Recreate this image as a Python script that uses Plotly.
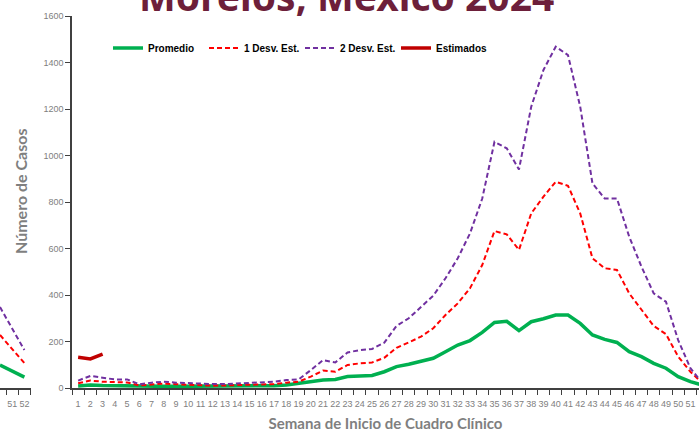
import plotly.graph_objects as go

weeks = list(range(1, 53))

promedio = [9, 13, 11, 10, 10, 6, 7, 7, 7, 7, 7, 7, 7, 8, 8, 9, 10,
            13, 20, 27, 34, 37, 49, 52, 54, 70, 92, 102, 116, 128, 156, 185,
            204, 239, 282, 287, 247, 285, 298, 314, 314, 278, 228, 209, 196,
            156, 135, 106, 85, 49, 27, 12]
desv1 = [20, 32, 27, 24, 24, 11, 16, 19, 16, 13, 13, 10, 11, 13, 16, 16, 17,
         23, 27, 49, 75, 70, 99, 106, 110, 130, 173, 196, 221, 257, 314, 364,
         429, 529, 675, 661, 594, 751, 823, 887, 870, 751, 558, 515, 508,
         407, 335, 267, 232, 135, 70, 20]
desv2 = [32, 52, 44, 37, 37, 16, 23, 27, 23, 20, 20, 17, 17, 20, 23, 24, 27,
         34, 37, 77, 120, 110, 153, 163, 168, 195, 267, 300, 350, 397, 472, 558,
         665, 815, 1059, 1031, 940, 1210, 1368, 1468, 1432, 1210, 880, 815, 815,
         651, 522, 407, 371, 206, 85, 20]
est_weeks = [1, 2, 3]
estimados = [132, 125, 146]

prev_weeks = [50, 51, 52]
prev_promedio = [99, 75, 47]
prev_desv1 = [228, 165, 107]
prev_desv2 = [348, 258, 163]

title_text = "Morelos, México 2024"
x_title = "Semana de Inicio de Cuadro Clínico"
y_title = "Número de Casos"

GREEN = "#00b050"
RED = "#ff0000"
PURPLE = "#7030a0"
DARKRED = "#c00000"
GREY = "#808080"
TICKFONT = dict(family="Liberation Sans", size=9, color=GREY)

fig = go.Figure()

# previous-year chart fragment (left)
fig.add_trace(go.Scatter(x=prev_weeks, y=prev_desv2, mode="lines", xaxis="x2", yaxis="y2",
                         line=dict(color=PURPLE, width=2, dash="5px,3px"), showlegend=False))
fig.add_trace(go.Scatter(x=prev_weeks, y=prev_desv1, mode="lines", xaxis="x2", yaxis="y2",
                         line=dict(color=RED, width=2, dash="5px,3px"), showlegend=False))
fig.add_trace(go.Scatter(x=prev_weeks, y=prev_promedio, mode="lines", xaxis="x2", yaxis="y2",
                         line=dict(color=GREEN, width=3.5), showlegend=False))

# main chart
fig.add_trace(go.Scatter(x=weeks, y=promedio, name="Promedio", mode="lines",
                         line=dict(color=GREEN, width=3.5)))
fig.add_trace(go.Scatter(x=weeks, y=desv1, name="1 Desv. Est.", mode="lines",
                         line=dict(color=RED, width=2, dash="5px,3px")))
fig.add_trace(go.Scatter(x=weeks, y=desv2, name="2 Desv. Est.", mode="lines",
                         line=dict(color=PURPLE, width=2, dash="5px,3px")))
fig.add_trace(go.Scatter(x=est_weeks, y=estimados, name="Estimados", mode="lines",
                         line=dict(color=DARKRED, width=3.5)))

W, H = 699, 435
PH = 435 - 16 - 47
fig.update_layout(
    width=W, height=H,
    margin=dict(l=0, r=0, t=16, b=47),
    paper_bgcolor="white", plot_bgcolor="rgba(0,0,0,0)",
    xaxis=dict(domain=[72 / W, 1], range=[0.5, 51.7], tickmode="array", tickvals=weeks,
               ticktext=[str(w) for w in weeks], ticks="", tickangle=0, showgrid=False, zeroline=False,
               showline=True, linecolor="#404040", linewidth=1.5, tickfont=TICKFONT,
               ticklabelstandoff=6, automargin=False,
               minor=dict(tick0=0.5, dtick=1, ticks="outside", ticklen=5, tickcolor="#404040", showgrid=False),
               title=dict(text=x_title,
                          font=dict(family="Lato", size=15, color="#7f7f7f", weight="bold"),
                          standoff=11)),
    yaxis=dict(range=[0, 1600], tickvals=list(range(0, 1601, 200)), ticks="outside", ticklen=5,
               tickcolor="#404040", showgrid=False, zeroline=False, showline=True,
               linecolor="#404040", linewidth=1.5, tickfont=TICKFONT, automargin=False),
    xaxis2=dict(domain=[0, 30.5 / W], range=[50, 52.5], tickmode="array", tickvals=prev_weeks,
                ticktext=[str(w) for w in prev_weeks], ticks="", tickangle=0, showgrid=False, zeroline=False,
                showline=True, linecolor="#404040", linewidth=1.5, tickfont=TICKFONT,
                ticklabelstandoff=6, anchor="y2", automargin=False,
                minor=dict(tick0=0.5, dtick=1, ticks="outside", ticklen=5, tickcolor="#404040", showgrid=False)),
    yaxis2=dict(range=[0, 1600], anchor="x2", visible=False),
    legend=dict(orientation="h", x=108 / W, xanchor="left", y=(388 - 48) / PH, yanchor="middle",
                font=dict(family="Liberation Sans", size=10, color="black", weight="bold"),
                itemwidth=30, entrywidth=51, entrywidthmode="pixels",
                bgcolor="rgba(0,0,0,0)", tracegroupgap=0),
    annotations=[
        dict(text=title_text, xref="paper", yref="paper", x=346 / W, y=(388 + 5) / PH,
             xanchor="center", yanchor="middle", showarrow=False,
             font=dict(family="Noto Sans", size=39, color="#6d1f3a", weight="bold")),
        dict(text=y_title, xref="paper", yref="paper", x=20 / W, y=(388 - 192) / PH,
             xanchor="center", yanchor="middle", showarrow=False, textangle=-90,
             font=dict(family="Lato", size=16, color="#7f7f7f", weight="bold")),
    ],
)

fig.write_html("out.html", config={"displayModeBar": False},
               post_script="document.body.style.margin='0';")
